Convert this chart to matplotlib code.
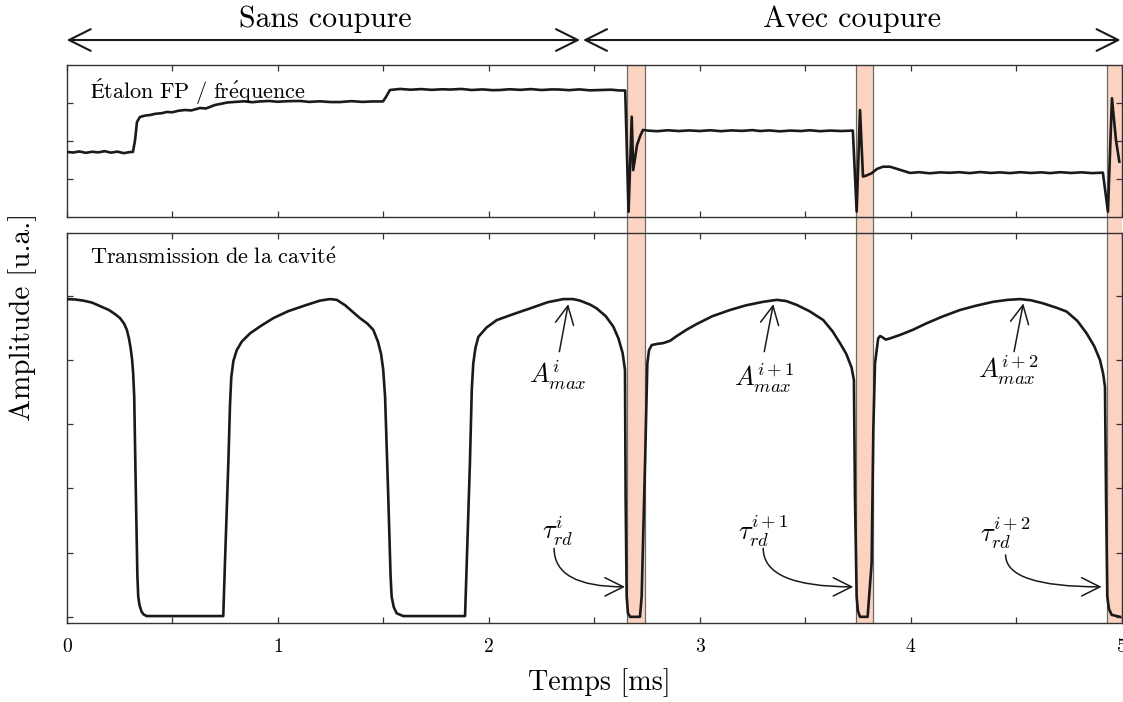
import matplotlib
matplotlib.use("Agg")
import matplotlib.pyplot as plt
import matplotlib.transforms as mtransforms
from matplotlib.patches import Rectangle

plt.rcParams['font.family'] = ['cmr10', 'STIXGeneral']
plt.rcParams['mathtext.fontset'] = 'cm'
plt.rcParams['axes.unicode_minus'] = False

# Etalon FP / frequence signal (ms, u.a.)
t_fp = [0.000, 0.030, 0.060, 0.090, 0.120, 0.150, 0.180, 0.210, 0.240, 0.270,
        0.300, 0.314, 0.324, 0.333, 0.347, 0.370, 0.395, 0.420, 0.450, 0.475,
        0.500, 0.530, 0.560, 0.590, 0.632, 0.660, 0.703, 0.730, 0.760, 0.800,
        0.840, 0.880, 0.916, 0.960, 1.000, 1.050, 1.106, 1.150, 1.200, 1.250,
        1.295, 1.350, 1.400, 1.450, 1.499, 1.513, 1.532, 1.580, 1.630, 1.680,
        1.730, 1.780, 1.817, 1.870, 1.920, 1.970, 2.020, 2.054, 2.100, 2.150,
        2.200, 2.250, 2.300, 2.338, 2.380, 2.430, 2.480, 2.528, 2.580, 2.620,
        2.647,
        2.663, 2.678, 2.685, 2.703, 2.717, 2.731,
        2.760, 2.800, 2.850, 2.900, 2.950, 3.001, 3.050, 3.100, 3.150, 3.200,
        3.250, 3.286, 3.330, 3.380, 3.430, 3.480, 3.520, 3.570, 3.620, 3.670,
        3.726,
        3.744, 3.760, 3.774, 3.790, 3.815, 3.840, 3.869, 3.902, 3.950, 3.997,
        4.040, 4.090, 4.140, 4.186, 4.230, 4.280, 4.330, 4.380, 4.423, 4.470,
        4.520, 4.570, 4.620, 4.660, 4.710, 4.760, 4.810, 4.860, 4.911,
        4.935, 4.954, 4.973, 4.989]
a_fp = [0.430, 0.426, 0.433, 0.424, 0.431, 0.427, 0.435, 0.425, 0.432, 0.422,
        0.429, 0.430, 0.508, 0.626, 0.659, 0.668, 0.672, 0.680, 0.684, 0.692,
        0.690, 0.700, 0.705, 0.702, 0.718, 0.715, 0.738, 0.745, 0.754, 0.758,
        0.762, 0.756, 0.761, 0.764, 0.759, 0.763, 0.764, 0.758, 0.762, 0.757,
        0.757, 0.763, 0.758, 0.761, 0.761, 0.790, 0.836, 0.843, 0.838, 0.842,
        0.837, 0.841, 0.839, 0.843, 0.836, 0.840, 0.835, 0.836, 0.841, 0.837,
        0.842, 0.836, 0.840, 0.839, 0.835, 0.840, 0.834, 0.836, 0.838, 0.833,
        0.833,
        0.038, 0.661, 0.311, 0.475, 0.530, 0.574,
        0.569, 0.566, 0.572, 0.567, 0.571, 0.567, 0.572, 0.566, 0.571, 0.568,
        0.573, 0.567, 0.571, 0.565, 0.570, 0.567, 0.572, 0.566, 0.570, 0.567,
        0.570,
        0.038, 0.705, 0.268, 0.275, 0.290, 0.318, 0.333, 0.333, 0.312, 0.292,
        0.297, 0.290, 0.296, 0.293, 0.297, 0.291, 0.298, 0.292, 0.296, 0.291,
        0.297, 0.292, 0.296, 0.291, 0.297, 0.292, 0.296, 0.291, 0.294,
        0.038, 0.782, 0.508, 0.366]

# Transmission de la cavite (ms, u.a.)
t_tr = [0.000, 0.040, 0.079, 0.120, 0.158, 0.200, 0.230, 0.253, 0.272, 0.285,
        0.295, 0.303, 0.310, 0.315, 0.320, 0.328, 0.335, 0.339, 0.345, 0.355,
        0.365, 0.379,
        0.742, 0.750, 0.766, 0.774, 0.780, 0.790, 0.806, 0.830, 0.869, 0.920,
        0.979, 1.050, 1.137, 1.200, 1.248, 1.280, 1.320, 1.360, 1.390, 1.425,
        1.453, 1.475, 1.490, 1.500, 1.509, 1.524, 1.535, 1.540, 1.550, 1.564,
        1.595,
        1.888, 1.896, 1.911, 1.920, 1.927, 1.937, 1.951, 1.990, 2.038, 2.120,
        2.196, 2.280, 2.354, 2.400, 2.433, 2.480, 2.512, 2.555, 2.591, 2.615,
        2.635, 2.646, 2.649, 2.654, 2.660, 2.670,
        2.717, 2.725, 2.741, 2.752, 2.760, 2.773, 2.800, 2.828, 2.860, 2.891,
        2.940, 2.986, 3.060, 3.144, 3.220, 3.301, 3.365, 3.410, 3.460, 3.520,
        3.586, 3.630, 3.665, 3.695, 3.720, 3.731, 3.736, 3.744, 3.750, 3.760,
        3.796, 3.815, 3.823, 3.831, 3.846, 3.855, 3.863, 3.882, 3.902, 3.950,
        4.010, 4.076, 4.150, 4.234, 4.310, 4.391, 4.460, 4.518, 4.570, 4.628,
        4.690, 4.739, 4.790, 4.834, 4.870, 4.897, 4.912, 4.921, 4.926, 4.932,
        4.940, 4.953, 4.992]
a_tr = [0.831, 0.830, 0.827, 0.822, 0.813, 0.803, 0.792, 0.782, 0.768, 0.752,
        0.730, 0.705, 0.675, 0.640, 0.580, 0.324, 0.120, 0.067, 0.045, 0.028,
        0.021, 0.017,
        0.017, 0.153, 0.409, 0.560, 0.630, 0.672, 0.700, 0.722, 0.743, 0.762,
        0.782, 0.800, 0.816, 0.827, 0.831, 0.829, 0.815, 0.796, 0.782, 0.768,
        0.752, 0.722, 0.690, 0.650, 0.580, 0.324, 0.120, 0.067, 0.040, 0.024,
        0.017,
        0.017, 0.153, 0.409, 0.600, 0.666, 0.705, 0.734, 0.758, 0.777, 0.793,
        0.807, 0.823, 0.831, 0.831, 0.827, 0.817, 0.807, 0.787, 0.760, 0.730,
        0.692, 0.649, 0.324, 0.067, 0.025, 0.015,
        0.015, 0.067, 0.409, 0.666, 0.700, 0.713, 0.716, 0.718, 0.724, 0.736,
        0.753, 0.767, 0.787, 0.803, 0.815, 0.824, 0.829, 0.826, 0.816, 0.800,
        0.777, 0.748, 0.718, 0.690, 0.655, 0.623, 0.324, 0.067, 0.030, 0.015,
        0.015, 0.153, 0.494, 0.666, 0.730, 0.736, 0.734, 0.727, 0.730, 0.739,
        0.752, 0.769, 0.786, 0.803, 0.814, 0.824, 0.829, 0.831, 0.828, 0.820,
        0.809, 0.799, 0.775, 0.743, 0.710, 0.675, 0.640, 0.606, 0.324, 0.067,
        0.035, 0.020, 0.015]

# laser cut windows (ms)
cut_start = [2.655, 3.740, 4.932]
cut_end = [2.739, 3.822, 5.000]

# annotations: (text x, text y, tail x, tail y, tip x, tip y)
amax_labels = [r'$A^{i}_{max}$', r'$A^{i+1}_{max}$', r'$A^{i+2}_{max}$']
amax_pos = [(2.328, 0.636, 2.335, 0.696, 2.377, 0.818),
            (3.305, 0.628, 3.306, 0.696, 3.349, 0.818),
            (4.461, 0.649, 4.490, 0.696, 4.534, 0.820)]
tau_labels = [r'$\tau^{i}_{rd}$', r'$\tau^{i+1}_{rd}$', r'$\tau^{i+2}_{rd}$']
tau_pos = [(2.328, 0.235, 2.310, 0.191, 2.646, 0.092),
           (3.300, 0.235, 3.301, 0.191, 3.728, 0.092),
           (4.447, 0.230, 4.450, 0.174, 4.905, 0.092)]

line_col = '#1a1a1a'
span_col = '#fcd3c0'
edge_col = '#6a6a6a'

fig = plt.figure(figsize=(11.23, 7.02), dpi=100)
ax1 = fig.add_axes([0.0594, 0.6902, 0.9394, 0.2172])
ax2 = fig.add_axes([0.0594, 0.1130, 0.9394, 0.5547])

for ax in (ax1, ax2):
    ax.set_xlim(0, 5)
    ax.set_ylim(0, 1)
    ax.patch.set_alpha(0)
    ax.set_xticks([0, 1, 2, 3, 4, 5])
    ax.set_xticks([0.5, 1.5, 2.5, 3.5, 4.5], minor=True)
    ax.tick_params(which='both', direction='in', top=True, right=True,
                   length=4, width=0.9, color='#333333', labelsize=14)
    ax.tick_params(axis='x', pad=11)
    for sp in ax.spines.values():
        sp.set_linewidth(1.0)
        sp.set_color('#333333')

# shaded cut windows running through both panels
trans = mtransforms.blended_transform_factory(ax1.transData, fig.transFigure)
y_lo, y_hi = 0.1130, 0.9074
for s0, s1 in zip(cut_start, cut_end):
    fig.patches.append(Rectangle((s0, y_lo), s1 - s0, y_hi - y_lo, transform=trans,
                                 facecolor=span_col, edgecolor='none', zorder=-5))
    for xv in (s0, s1):
        if xv < 5.0:
            fig.lines.append(plt.Line2D([xv, xv], [y_lo, y_hi], transform=trans,
                                        color=edge_col, lw=0.9, zorder=-4))

ax1.plot(t_fp, a_fp, color=line_col, lw=1.9, zorder=3)
ax1.set_xticklabels([])
ax1.set_yticks([0.25, 0.5, 0.75])
ax1.set_yticklabels([])
ax1.text(0.022, 0.93, r'$\mathrm{Étalon\ FP\ /\ fr\acute{e}quence}$',
         transform=ax1.transAxes, fontsize=16, va='top', ha='left')

ax2.plot(t_tr, a_tr, color=line_col, lw=1.9, zorder=3)
ax2.set_yticks([0.015, 0.18, 0.345, 0.51, 0.675, 0.84])
ax2.set_yticklabels([])
ax2.set_xticklabels(['0', '1', '2', '3', '4', '5'])
ax2.text(0.022, 0.965, r'$\mathrm{Transmission\ de\ la\ cavit\acute{e}}$',
         transform=ax2.transAxes, fontsize=16, va='top', ha='left')

for lab, (tx, ty, x0, y0, x1, y1) in zip(amax_labels, amax_pos):
    ax2.text(tx, ty, lab, fontsize=19, ha='center', va='center')
    ax2.annotate('', xy=(x1, y1), xytext=(x0, y0),
                 arrowprops=dict(arrowstyle='->,head_length=0.6,head_width=0.3',
                                 lw=1.1, color=line_col, shrinkA=0, shrinkB=0,
                                 mutation_scale=22))

for lab, (tx, ty, x0, y0, x1, y1) in zip(tau_labels, tau_pos):
    ax2.text(tx, ty, lab, fontsize=19, ha='center', va='center')
    ax2.annotate('', xy=(x1, y1), xytext=(x0, y0),
                 arrowprops=dict(arrowstyle='->,head_length=0.6,head_width=0.3',
                                 lw=1.1, color=line_col, shrinkA=0, shrinkB=0,
                                 mutation_scale=22,
                                 connectionstyle='angle3,angleA=90,angleB=0'))

# top double arrows
arr = dict(arrowstyle='<->,head_length=0.6,head_width=0.3', lw=1.5,
           color=line_col, shrinkA=0, shrinkB=0, mutation_scale=26)
ax1.annotate('', xy=(0.0, 0.943), xytext=(2.433, 0.943),
             xycoords=('data', 'figure fraction'),
             textcoords=('data', 'figure fraction'), arrowprops=arr)
ax1.annotate('', xy=(2.447, 0.943), xytext=(4.995, 0.943),
             xycoords=('data', 'figure fraction'),
             textcoords=('data', 'figure fraction'), arrowprops=arr)
fig.text(0.2897, 0.973, 'Sans coupure', fontsize=21.5, ha='center', va='center')
fig.text(0.7587, 0.973, 'Avec coupure', fontsize=21.5, ha='center', va='center')

fig.text(0.534, 0.028, 'Temps [ms]', fontsize=20.3, ha='center', va='center')
fig.text(0.020, 0.548, 'Amplitude [u.a.]', fontsize=21, ha='center', va='center',
         rotation=90)

fig.savefig('out.png', dpi=100)
